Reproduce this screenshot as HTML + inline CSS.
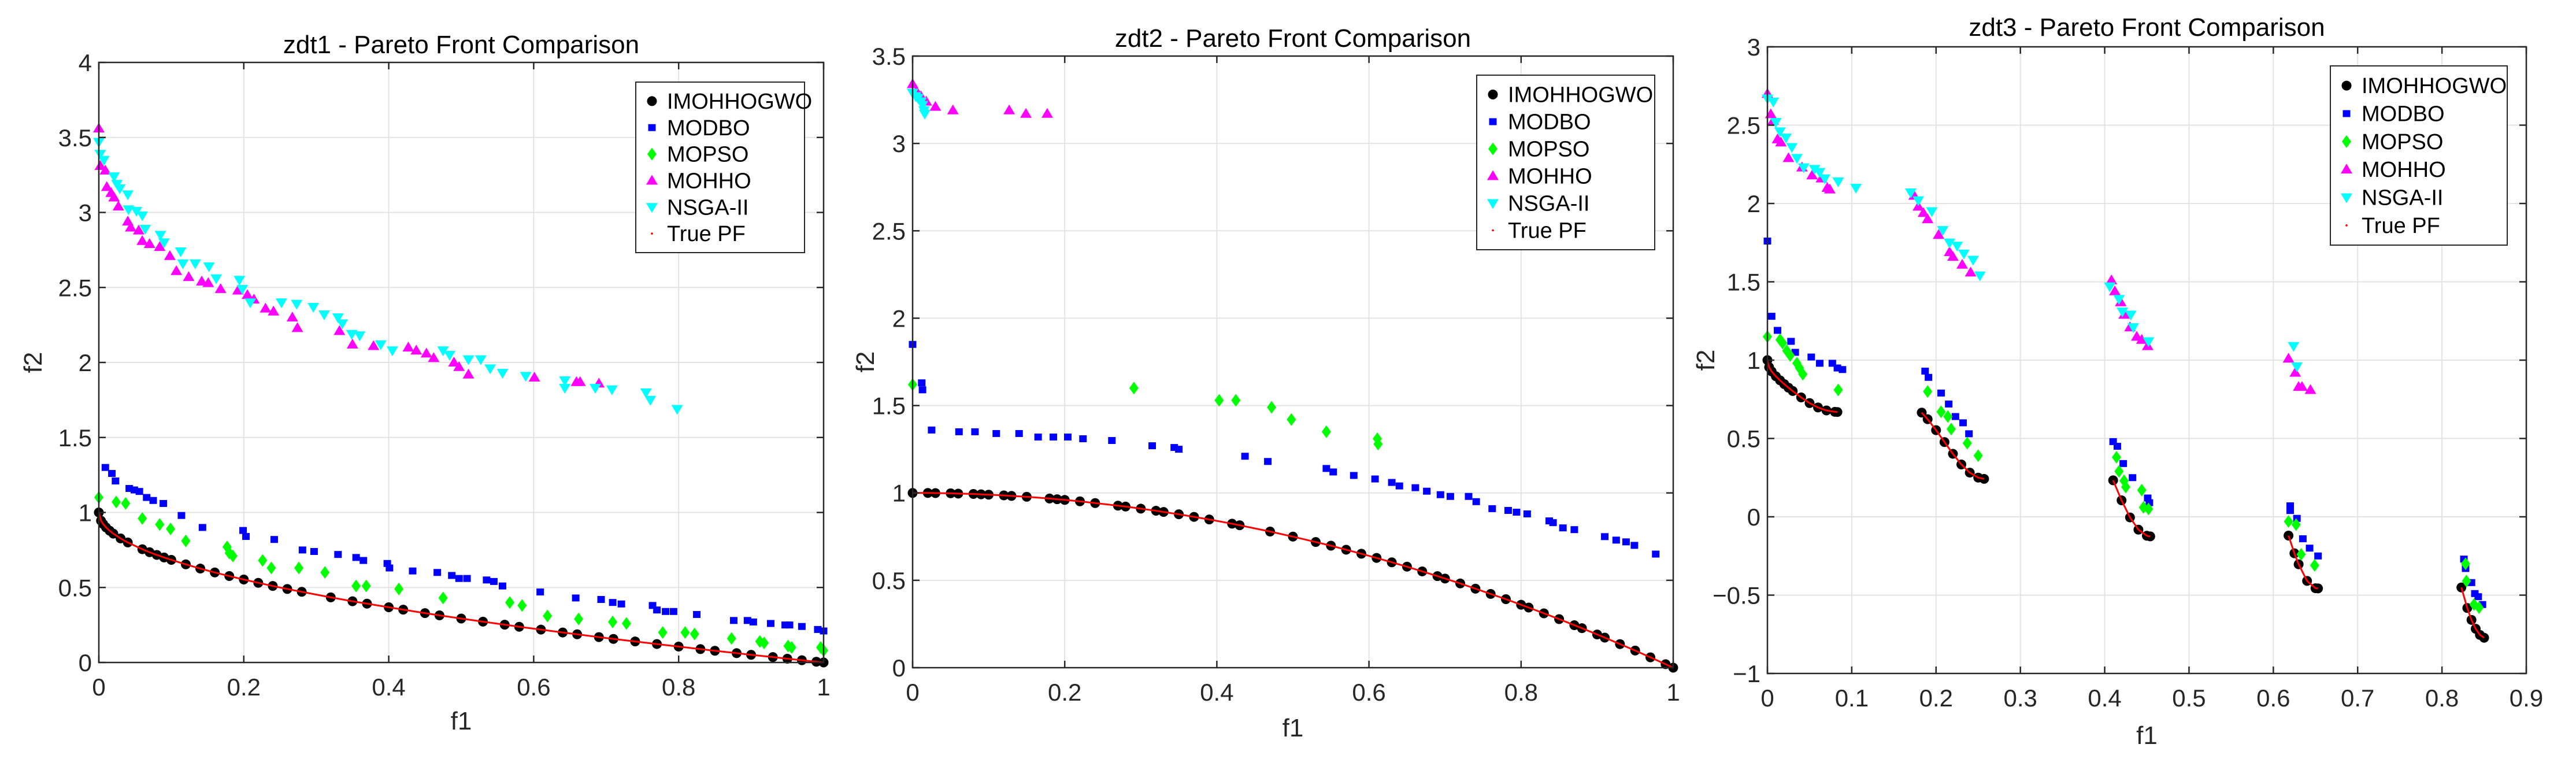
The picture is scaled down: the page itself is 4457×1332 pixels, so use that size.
<!DOCTYPE html>
<html><head><meta charset="utf-8"><style>
html,body{margin:0;padding:0;background:#fff;overflow:hidden;}
svg{display:block;font-family:"Liberation Sans",Arial,sans-serif;}
</style></head><body>
<svg id="fig" width="4457" height="1332" viewBox="0 0 4457 1332" xmlns="http://www.w3.org/2000/svg">
<rect width="4457" height="1332" fill="#fff"/>
</svg>
<script>
// ---------- ZDT1 data ----------
const z1ImoX=[0,0.003,0.006,0.01,0.015,0.02,0.03,0.04,0.06,0.07,0.08,0.09,0.1,0.12,0.14,0.16,0.18,0.2,0.22,0.24,0.26,0.28,0.32,0.35,0.37,0.4,0.42,0.45,0.47,0.5,0.53,0.56,0.58,0.61,0.64,0.66,0.69,0.71,0.74,0.77,0.8,0.83,0.85,0.88,0.9,0.93,0.95,0.97,0.99,1.0];
const z1ImoY=[1,0.945,0.923,0.9,0.878,0.859,0.827,0.8,0.755,0.735,0.717,0.7,0.684,0.654,0.626,0.6,0.576,0.553,0.531,0.51,0.49,0.471,0.434,0.408,0.392,0.368,0.352,0.329,0.314,0.293,0.272,0.252,0.238,0.219,0.2,0.188,0.169,0.157,0.14,0.123,0.106,0.089,0.078,0.062,0.051,0.036,0.025,0.015,0.005,0];
const z1DboX=[0.009,0.018,0.023,0.042,0.049,0.056,0.066,0.075,0.089,0.114,0.143,0.199,0.203,0.242,0.281,0.297,0.33,0.355,0.365,0.398,0.401,0.433,0.467,0.487,0.497,0.508,0.535,0.545,0.557,0.609,0.658,0.693,0.709,0.721,0.764,0.77,0.782,0.793,0.825,0.876,0.895,0.903,0.927,0.947,0.953,0.97,0.992,1.0];
const z1DboY=[1.30,1.26,1.21,1.16,1.15,1.14,1.10,1.08,1.06,0.98,0.90,0.88,0.84,0.82,0.75,0.74,0.72,0.70,0.68,0.66,0.63,0.61,0.60,0.58,0.56,0.56,0.55,0.54,0.51,0.47,0.43,0.42,0.40,0.39,0.38,0.35,0.34,0.34,0.32,0.28,0.28,0.27,0.26,0.25,0.25,0.24,0.22,0.21];
const z1PsoX=[0,0.024,0.037,0.06,0.084,0.099,0.12,0.177,0.18,0.185,0.226,0.238,0.276,0.312,0.355,0.369,0.414,0.475,0.567,0.584,0.619,0.662,0.709,0.728,0.778,0.809,0.822,0.873,0.912,0.918,0.951,0.956,0.996,1.0];
const z1PsoY=[1.10,1.07,1.06,0.96,0.92,0.89,0.81,0.77,0.73,0.71,0.68,0.63,0.63,0.60,0.51,0.51,0.49,0.43,0.40,0.38,0.31,0.29,0.27,0.26,0.20,0.20,0.19,0.16,0.14,0.13,0.11,0.10,0.10,0.08];
const z1HhoX=[0,0.002,0.009,0.011,0.017,0.021,0.027,0.04,0.044,0.055,0.06,0.07,0.084,0.098,0.107,0.124,0.142,0.151,0.168,0.192,0.205,0.214,0.23,0.241,0.267,0.274,0.332,0.35,0.379,0.427,0.438,0.452,0.462,0.49,0.497,0.51,0.601,0.659,0.664,0.69];
const z1HhoY=[3.56,3.31,3.28,3.17,3.13,3.10,3.04,2.94,2.90,2.88,2.81,2.79,2.77,2.71,2.61,2.57,2.54,2.53,2.49,2.48,2.45,2.42,2.36,2.34,2.30,2.23,2.21,2.12,2.11,2.10,2.08,2.06,2.03,2.00,1.97,1.92,1.90,1.87,1.87,1.86];
const z1NsgX=[0,0.002,0.007,0.021,0.025,0.029,0.04,0.041,0.052,0.06,0.064,0.085,0.09,0.113,0.116,0.133,0.152,0.162,0.194,0.198,0.209,0.252,0.273,0.296,0.311,0.33,0.336,0.349,0.36,0.389,0.405,0.475,0.484,0.51,0.527,0.54,0.557,0.589,0.643,0.643,0.685,0.708,0.755,0.761,0.798];
const z1NsgY=[3.47,3.39,3.35,3.24,3.19,3.16,3.12,3.02,3.01,2.98,2.89,2.85,2.80,2.74,2.66,2.66,2.64,2.56,2.55,2.49,2.40,2.40,2.39,2.37,2.32,2.30,2.26,2.19,2.18,2.12,2.08,2.08,2.05,2.02,2.02,1.96,1.93,1.91,1.88,1.83,1.83,1.82,1.80,1.75,1.69];
const z1XTicks=[0,0.2,0.4,0.6,0.8,1];
const z1YTicks=[0,0.5,1,1.5,2,2.5,3,3.5,4];
// ---------- ZDT2 data ----------
const z2ImoX=[0,0.02,0.03,0.05,0.06,0.08,0.09,0.1,0.12,0.13,0.15,0.18,0.19,0.2,0.22,0.24,0.27,0.28,0.3,0.32,0.33,0.35,0.37,0.39,0.42,0.43,0.47,0.5,0.53,0.55,0.57,0.59,0.61,0.63,0.65,0.67,0.69,0.7,0.72,0.74,0.76,0.78,0.8,0.81,0.83,0.85,0.87,0.88,0.9,0.91,0.93,0.95,0.97,0.99,1];
const z2ImoY=[1,1,0.999,0.998,0.996,0.994,0.992,0.99,0.986,0.983,0.978,0.968,0.964,0.96,0.952,0.942,0.927,0.922,0.91,0.898,0.891,0.878,0.863,0.848,0.824,0.815,0.779,0.75,0.719,0.698,0.675,0.652,0.628,0.603,0.578,0.551,0.524,0.51,0.482,0.452,0.422,0.392,0.36,0.344,0.311,0.278,0.243,0.226,0.19,0.172,0.135,0.098,0.059,0.02,0];
const z2DboX=[0,0.012,0.013,0.025,0.061,0.082,0.11,0.14,0.165,0.185,0.204,0.224,0.262,0.315,0.344,0.35,0.437,0.467,0.544,0.553,0.58,0.608,0.63,0.64,0.661,0.676,0.694,0.707,0.731,0.741,0.762,0.783,0.794,0.808,0.837,0.842,0.855,0.87,0.91,0.925,0.938,0.949,0.977];
const z2DboY=[1.85,1.63,1.59,1.36,1.35,1.35,1.34,1.34,1.32,1.32,1.32,1.31,1.30,1.27,1.26,1.25,1.21,1.18,1.14,1.12,1.10,1.08,1.06,1.04,1.03,1.01,0.99,0.98,0.98,0.95,0.91,0.90,0.89,0.88,0.84,0.83,0.80,0.79,0.75,0.73,0.72,0.70,0.65];
const z2PsoX=[0,0.291,0.403,0.425,0.472,0.498,0.544,0.611,0.612];
const z2PsoY=[1.62,1.60,1.53,1.53,1.49,1.42,1.35,1.31,1.28];
const z2HhoX=[0,0.005,0.011,0.018,0.03,0.053,0.127,0.149,0.177];
const z2HhoY=[3.34,3.30,3.27,3.24,3.21,3.19,3.19,3.17,3.17];
const z2NsgX=[0,0.004,0.007,0.011,0.013,0.015,0.016];
const z2NsgY=[3.29,3.27,3.26,3.24,3.22,3.19,3.17];
const z2XTicks=[0,0.2,0.4,0.6,0.8,1];
const z2YTicks=[0,0.5,1,1.5,2,2.5,3,3.5];
// ---------- ZDT3 data ----------
const z3ImoX=[0,0.002,0.005,0.01,0.015,0.02,0.025,0.03,0.04,0.05,0.06,0.07,0.08,0.083,0.183,0.19,0.2,0.21,0.22,0.23,0.24,0.25,0.257,0.41,0.42,0.43,0.44,0.45,0.454,0.618,0.625,0.63,0.64,0.65,0.653,0.823,0.83,0.835,0.84,0.845,0.85];
const z3ImoY=[1,0.955,0.928,0.897,0.871,0.847,0.824,0.803,0.762,0.726,0.698,0.679,0.670,0.669,0.665,0.623,0.553,0.477,0.402,0.334,0.282,0.25,0.242,0.233,0.105,-0.004,-0.082,-0.121,-0.125,-0.12,-0.233,-0.303,-0.409,-0.456,-0.457,-0.451,-0.582,-0.658,-0.715,-0.754,-0.772];
const z3DboX=[0,0.005,0.012,0.028,0.033,0.052,0.062,0.077,0.083,0.089,0.187,0.191,0.206,0.215,0.223,0.232,0.239,0.41,0.415,0.422,0.433,0.451,0.453,0.62,0.62,0.628,0.635,0.643,0.653,0.826,0.828,0.835,0.839,0.843,0.848];
const z3DboY=[1.76,1.28,1.19,1.12,1.05,1.02,0.98,0.98,0.95,0.94,0.93,0.89,0.79,0.72,0.64,0.60,0.53,0.48,0.45,0.34,0.25,0.12,0.09,0.07,0.04,-0.01,-0.14,-0.20,-0.25,-0.27,-0.33,-0.42,-0.49,-0.51,-0.56];
const z3PsoX=[0,0.015,0.018,0.023,0.027,0.035,0.038,0.042,0.084,0.19,0.206,0.214,0.218,0.237,0.25,0.414,0.417,0.423,0.425,0.444,0.446,0.452,0.618,0.627,0.633,0.649,0.828,0.829,0.838,0.844];
const z3PsoY=[1.15,1.13,1.11,1.06,1.03,0.98,0.95,0.91,0.81,0.80,0.67,0.64,0.56,0.47,0.39,0.38,0.29,0.23,0.19,0.17,0.06,0.05,-0.03,-0.05,-0.24,-0.31,-0.30,-0.41,-0.56,-0.58];
const z3HhoX=[0,0.004,0.007,0.012,0.016,0.025,0.041,0.053,0.064,0.071,0.074,0.174,0.179,0.185,0.19,0.203,0.216,0.22,0.231,0.241,0.408,0.412,0.419,0.423,0.43,0.438,0.444,0.451,0.618,0.626,0.63,0.634,0.644];
const z3HhoY=[2.70,2.57,2.53,2.41,2.39,2.29,2.23,2.18,2.16,2.10,2.09,2.05,1.98,1.94,1.90,1.80,1.69,1.66,1.61,1.56,1.51,1.44,1.37,1.29,1.21,1.15,1.13,1.09,1.01,0.92,0.83,0.83,0.81];
const z3NsgX=[0,0.007,0.01,0.015,0.022,0.029,0.035,0.043,0.056,0.062,0.068,0.084,0.105,0.17,0.179,0.195,0.208,0.216,0.225,0.233,0.244,0.252,0.406,0.417,0.421,0.431,0.434,0.452,0.624,0.628];
const z3NsgY=[2.67,2.65,2.52,2.46,2.42,2.36,2.29,2.23,2.22,2.20,2.16,2.14,2.10,2.07,2.02,1.95,1.83,1.75,1.73,1.68,1.64,1.54,1.47,1.39,1.31,1.29,1.21,1.12,1.09,0.96];
const z3XTicks=[0,0.1,0.2,0.3,0.4,0.5,0.6,0.7,0.8,0.9];
const z3YTicks=[-1,-0.5,0,0.5,1,1.5,2,2.5,3];
const legendLabels=["IMOHHOGWO","MODBO","MOPSO","MOHHO","NSGA-II","True PF"];

const NS="http://www.w3.org/2000/svg";
const svg=document.getElementById('fig');
function mk(tag,attrs,parent){const e=document.createElementNS(NS,tag);for(const k in attrs)e.setAttribute(k,attrs[k]);(parent||svg).appendChild(e);return e;}
function marker(g,type,cx,cy){
  let e;
  if(type==='circle'){e=mk('circle',{cx:cx,cy:cy,r:8.5,fill:'#000'},g);}
  else if(type==='square'){e=mk('rect',{x:cx-6.5,y:cy-6,width:13,height:12,fill:'#0000ff'},g);}
  else if(type==='diamond'){e=mk('polygon',{points:`${cx},${cy-11} ${cx+8},${cy} ${cx},${cy+11} ${cx-8},${cy}`,fill:'#00ff00'},g);}
  else if(type==='up'){e=mk('polygon',{points:`${cx},${cy-10} ${cx+10},${cy+7} ${cx-10},${cy+7}`,fill:'#ff00ff'},g);}
  else if(type==='down'){e=mk('polygon',{points:`${cx-10},${cy-7} ${cx+10},${cy-7} ${cx},${cy+10}`,fill:'#00ffff'},g);}
  else {e=mk('circle',{cx:cx,cy:cy,r:1.8,fill:'#ff0000'},g);}
  return e;
}
function fmt(v){return (v<0?'\u2212':'')+String(Math.abs(v));}
function plot(cfg){
  const {id,L,R,T,B,xmin,xmax,ymin,ymax,xt,yt,title,titleY,ylabX,xlabY,leg,series,pf,gap}=cfg;
  const sx=v=>L+(v-xmin)/(xmax-xmin)*(R-L);
  const sy=v=>B-(v-ymin)/(ymax-ymin)*(B-T);
  const g=mk('g',{});
  
  
  xt.forEach(v=>{const l=mk('line',{x1:sx(v),x2:sx(v),y1:T,y2:B,stroke:'#e3e3e3','stroke-width':2},g);
    });
  yt.forEach(v=>{const l=mk('line',{x1:L,x2:R,y1:sy(v),y2:sy(v),stroke:'#e3e3e3','stroke-width':2},g);
    });
  let segs=[[]];
  for(let i=0;i<pf[0].length;i++){
    if(i>0 && pf[0][i]-pf[0][i-1]>gap) segs.push([]);
    segs[segs.length-1].push(sx(pf[0][i])+','+sy(pf[1][i]));
  }
  series.forEach(s=>{
    const sg=mk('g',{},g);
    
    
    for(let i=0;i<s.x.length;i++){
      const m=marker(sg,s.type,sx(s.x[i]),sy(s.y[i]));
      
      
    }
  });
  segs.forEach(p=>{const pl=mk('polyline',{points:p.join(' '),fill:'none',stroke:'#ff0000','stroke-width':3},g);
    });
  const box=mk('rect',{x:L,y:T,width:R-L,height:B-T,fill:'none',stroke:'#262626','stroke-width':2.5},g);
  
  xt.forEach(v=>{
    mk('line',{x1:sx(v),x2:sx(v),y1:B,y2:B-12,stroke:'#262626','stroke-width':2.5},g);
    mk('line',{x1:sx(v),x2:sx(v),y1:T,y2:T+12,stroke:'#262626','stroke-width':2.5},g);
    const t=mk('text',{x:sx(v),y:B+57,'font-size':42,'text-anchor':'middle',fill:'#262626'},g);
    t.textContent=fmt(v);
  });
  yt.forEach(v=>{
    mk('line',{x1:L,x2:L+12,y1:sy(v),y2:sy(v),stroke:'#262626','stroke-width':2.5},g);
    mk('line',{x1:R,x2:R-12,y1:sy(v),y2:sy(v),stroke:'#262626','stroke-width':2.5},g);
    const t=mk('text',{x:L-12,y:sy(v)+15,'font-size':42,'text-anchor':'end',fill:'#262626'},g);
    t.textContent=fmt(v);
  });
  const tt=mk('text',{x:(L+R)/2,y:titleY,'font-size':44,'text-anchor':'middle',fill:'#000'},g);
  tt.textContent=title;
  const xl=mk('text',{x:(L+R)/2,y:xlabY,'font-size':44,'text-anchor':'middle',fill:'#262626'},g);
  xl.textContent='f1';
  const ym=(T+B)/2;
  const yl=mk('text',{x:ylabX,y:ym,'font-size':44,'text-anchor':'middle',fill:'#262626',transform:`rotate(-90 ${ylabX} ${ym})`},g);
  yl.textContent='f2';
  const lg=mk('g',{},g);
  
  mk('rect',{x:leg[0],y:leg[1],width:leg[2],height:leg[3],fill:'#fff',stroke:'#262626','stroke-width':2},lg);
  const types=['circle','square','diamond','up','down','dot'];
  const step=(leg[3]-20)/6;
  legendLabels.forEach((lab,i)=>{
    const cy=leg[1]+10+step*(i+0.5);
    const e=mk('g',{},lg);
    
    
    marker(e,types[i],leg[0]+28,cy);
    const t=mk('text',{x:leg[0]+54,y:cy+13,'font-size':38,fill:'#000'},e);
    t.textContent=lab;
  });
}
plot({id:'zdt1',L:171,R:1425,T:108,B:1146,xmin:0,xmax:1,ymin:0,ymax:4,xt:z1XTicks,yt:z1YTicks,
  title:'zdt1 - Pareto Front Comparison',titleY:92,ylabX:72,xlabY:1262,leg:[1100,142,292,295],gap:1,
  pf:[z1ImoX,z1ImoY],
  series:[{name:'IMOHHOGWO',type:'circle',x:z1ImoX,y:z1ImoY},{name:'MODBO',type:'square',x:z1DboX,y:z1DboY},
  {name:'MOPSO',type:'diamond',x:z1PsoX,y:z1PsoY},{name:'MOHHO',type:'up',x:z1HhoX,y:z1HhoY},{name:'NSGA-II',type:'down',x:z1NsgX,y:z1NsgY}]});
plot({id:'zdt2',L:1579,R:2895,T:97,B:1155,xmin:0,xmax:1,ymin:0,ymax:3.5,xt:z2XTicks,yt:z2YTicks,
  title:'zdt2 - Pareto Front Comparison',titleY:81,ylabX:1512,xlabY:1274,leg:[2555,130,308,302],gap:1,
  pf:[z2ImoX,z2ImoY],
  series:[{name:'IMOHHOGWO',type:'circle',x:z2ImoX,y:z2ImoY},{name:'MODBO',type:'square',x:z2DboX,y:z2DboY},
  {name:'MOPSO',type:'diamond',x:z2PsoX,y:z2PsoY},{name:'MOHHO',type:'up',x:z2HhoX,y:z2HhoY},{name:'NSGA-II',type:'down',x:z2NsgX,y:z2NsgY}]});
plot({id:'zdt3',L:3058,R:4371,T:81,B:1165,xmin:0,xmax:0.9,ymin:-1,ymax:3,xt:z3XTicks,yt:z3YTicks,
  title:'zdt3 - Pareto Front Comparison',titleY:62,ylabX:2966,xlabY:1287,leg:[4032,114,306,310],gap:0.05,
  pf:[z3ImoX,z3ImoY],
  series:[{name:'IMOHHOGWO',type:'circle',x:z3ImoX,y:z3ImoY},{name:'MODBO',type:'square',x:z3DboX,y:z3DboY},
  {name:'MOPSO',type:'diamond',x:z3PsoX,y:z3PsoY},{name:'MOHHO',type:'up',x:z3HhoX,y:z3HhoY},{name:'NSGA-II',type:'down',x:z3NsgX,y:z3NsgY}]});
</script>
</body></html>
